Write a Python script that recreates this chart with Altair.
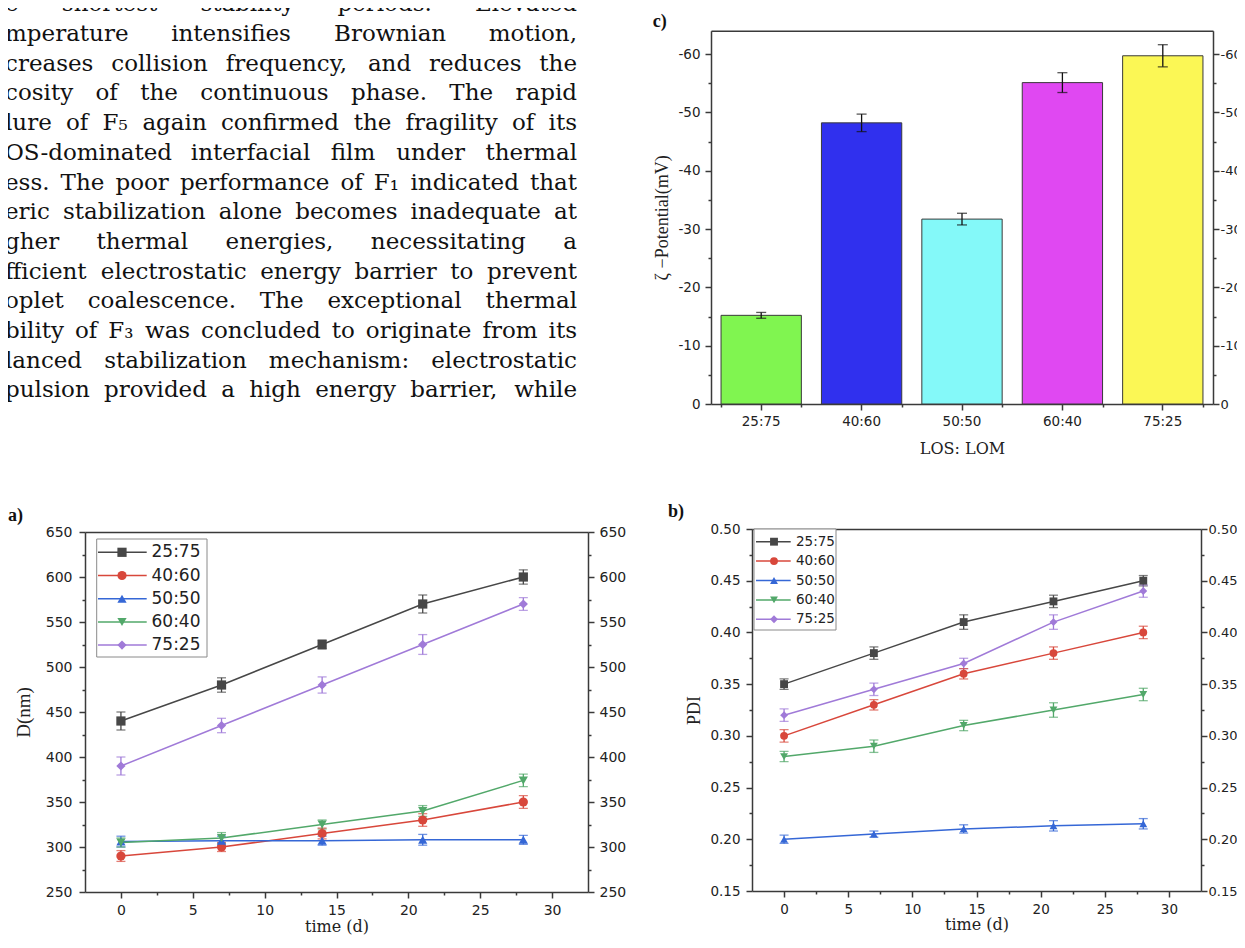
import altair as alt
import pandas as pd

# ---------------- data ----------------
days = [0, 7, 14, 21, 28]
series = ["25:75", "40:60", "50:50", "60:40", "75:25"]
series_colors = ["#474747", "#d8473b", "#3567d6", "#52a86a", "#a07ad8"]
series_shapes = ["square", "circle", "triangle-up", "triangle-down", "diamond"]

# a) droplet size D (nm)
d_25_75 = [440, 480, 525, 570, 600]
d_40_60 = [290, 300, 315, 330, 350]
d_50_50 = [306, 307, 307, 308, 308]
d_60_40 = [305, 310, 325, 340, 374]
d_75_25 = [390, 435, 480, 525, 570]
d_err_25_75 = [10, 8, 5, 10, 8]
d_err_40_60 = [6, 5, 6, 7, 7]
d_err_50_50 = [6, 5, 5, 6, 5]
d_err_60_40 = [5, 6, 5, 6, 7]
d_err_75_25 = [10, 8, 9, 11, 7]

# b) PDI
pdi_25_75 = [0.350, 0.380, 0.410, 0.430, 0.450]
pdi_40_60 = [0.300, 0.330, 0.360, 0.380, 0.400]
pdi_50_50 = [0.200, 0.205, 0.210, 0.213, 0.215]
pdi_60_40 = [0.280, 0.290, 0.310, 0.325, 0.340]
pdi_75_25 = [0.320, 0.345, 0.370, 0.410, 0.440]
pdi_err_25_75 = [0.005, 0.006, 0.007, 0.006, 0.005]
pdi_err_40_60 = [0.006, 0.005, 0.005, 0.006, 0.006]
pdi_err_50_50 = [0.004, 0.003, 0.004, 0.005, 0.005]
pdi_err_60_40 = [0.005, 0.006, 0.005, 0.007, 0.006]
pdi_err_75_25 = [0.006, 0.006, 0.005, 0.007, 0.006]

# c) zeta potential
zeta = [-15.2, -48.2, -31.7, -55.1, -59.7]
zeta_err = [0.5, 1.5, 1.0, 1.7, 1.9]
bar_colors = ["#80f550", "#3030ee", "#84f9f9", "#e048f2", "#fbf755"]

para_lines = [
    "e shortest stability periods. Elevated",
    "mperature intensifies Brownian motion,",
    "creases collision frequency, and reduces the",
    "cosity of the continuous phase. The rapid",
    "lure of F\u2085 again confirmed the fragility of its",
    "OS-dominated interfacial film under thermal",
    "ess. The poor performance of F\u2081 indicated that",
    "eric stabilization alone becomes inadequate at",
    "gher thermal energies, necessitating a",
    "fficient electrostatic energy barrier to prevent",
    "oplet coalescence. The exceptional thermal",
    "bility of F\u2083 was concluded to originate from its",
    "lanced stabilization mechanism: electrostatic",
    "pulsion provided a high energy barrier, while",
]

# ---------------- helpers ----------------
def long_df(vals, errs):
    rows = []
    for s, vv, ee in zip(series, vals, errs):
        for d, v, e in zip(days, vv, ee):
            rows.append({"series": s, "day": d, "value": v, "lo": v - e, "hi": v + e})
    return pd.DataFrame(rows)

size_df = long_df([d_25_75, d_40_60, d_50_50, d_60_40, d_75_25],
                  [d_err_25_75, d_err_40_60, d_err_50_50, d_err_60_40, d_err_75_25])
pdi_df = long_df([pdi_25_75, pdi_40_60, pdi_50_50, pdi_60_40, pdi_75_25],
                 [pdi_err_25_75, pdi_err_40_60, pdi_err_50_50, pdi_err_60_40, pdi_err_75_25])
zeta_df = pd.DataFrame({"ratio": series, "zeta": zeta,
                        "lo": [z - e for z, e in zip(zeta, zeta_err)],
                        "hi": [z + e for z, e in zip(zeta, zeta_err)],
                        "barcolor": bar_colors})
leg_df = pd.DataFrame({"series": series, "idx": list(range(len(series)))})
one_df = pd.DataFrame({"k": [0]})

AXC = "#3a3a3a"
AX = dict(domainColor=AXC, domainWidth=1.5, tickColor=AXC, tickWidth=1.5,
          labelColor="#222222", grid=False, labelFlush=False, labelOverlap=False,
          titleFontWeight="normal", titleColor="#222222")


def ax(**kw):
    d = dict(AX)
    d.update(kw)
    return alt.Axis(**d)


color_enc = alt.Color("series:N", scale=alt.Scale(domain=series, range=series_colors), legend=None)
shape_enc = alt.Shape("series:N", scale=alt.Scale(domain=series, range=series_shapes), legend=None)


def line_panel(df, xs, ys, axes, width, height, legend, label, marker_size, extra=()):
    X = lambda a: alt.X("day:Q", scale=xs, axis=a)
    Y = lambda a, f="value": alt.Y(f + ":Q", scale=ys, axis=a)
    base = alt.Chart(df)
    layers = [
        base.mark_point(opacity=0).encode(x=X(axes["xb"]), y=Y(axes["yl"])),
        base.mark_point(opacity=0).encode(x=X(axes["xbm"]), y=Y(axes["ylm"])),
        base.mark_point(opacity=0).encode(x=X(axes["xt"]), y=Y(axes["yr"])),
        base.mark_point(opacity=0).encode(x=X(None), y=Y(axes["yrm"])),
        base.mark_line(strokeWidth=1.5).encode(x=X(None), y=Y(None), color=color_enc),
        base.mark_rule(strokeWidth=1.3).encode(x=X(None), y=Y(None, "lo"), y2="hi:Q", color=color_enc),
        base.mark_tick(orient="horizontal", size=9, thickness=1.3).encode(x=X(None), y=Y(None, "lo"), color=color_enc),
        base.mark_tick(orient="horizontal", size=9, thickness=1.3).encode(x=X(None), y=Y(None, "hi"), color=color_enc),
        base.mark_point(filled=True, opacity=1, size=marker_size).encode(x=X(None), y=Y(None), color=color_enc, shape=shape_enc),
    ]
    # legend box + entries (positions in panel pixels, entries mapped to y-scale)
    lg = legend
    layers.append(alt.Chart(one_df).mark_rect(fill="white", stroke="#8a8a8a", strokeWidth=1).encode(
        x=alt.value(lg["bx0"]), x2=alt.value(lg["bx1"]), y=alt.value(lg["by0"]), y2=alt.value(lg["by1"])))
    lbase = alt.Chart(leg_df).transform_calculate(ly=lg["expr"])
    LY = alt.Y("ly:Q", scale=ys, axis=None)
    layers += [
        lbase.mark_rule(strokeWidth=1.5).encode(x=alt.value(lg["lx0"]), x2=alt.value(lg["lx1"]), y=LY, color=color_enc),
        lbase.mark_point(filled=True, opacity=1, size=marker_size).encode(x=alt.value(lg["mx"]), y=LY, color=color_enc, shape=shape_enc),
        lbase.mark_text(align="left", baseline="middle", font="DejaVu Sans", fontSize=lg["fs"], color="#222222").encode(
            x=alt.value(lg["tx"]), y=LY, text="series:N"),
        alt.Chart(one_df).mark_text(text=label[0], align="left", baseline="middle", font="Liberation Serif",
                                    fontWeight="bold", fontSize=18, color="#111111").encode(
            x=alt.value(label[1]), y=alt.value(label[2])),
    ]
    layers += list(extra)
    return alt.layer(*layers).resolve_axis(x="independent", y="independent").properties(width=width, height=height)


# ---------------- chart a ----------------
xs_a = alt.Scale(domain=[-2.5, 32.5], range=[77, 580], nice=False, zero=False)
ys_a = alt.Scale(domain=[250, 650], range=[363, 3], nice=False, zero=False)
x_major = [0, 5, 10, 15, 20, 25, 30]
x_minor = [2.5, 7.5, 12.5, 17.5, 22.5, 27.5]
ya_major = list(range(250, 651, 50))
ya_minor = list(range(275, 626, 50))
lab_a = dict(labelFont="DejaVu Sans", labelFontSize=14)
axes_a = {
    "xb": ax(orient="bottom", values=x_major, tickSize=6, labelPadding=5, format="d", title="time (d)",
             titleFont="DejaVu Serif", titleFontSize=16, titlePadding=1, **lab_a),
    "xbm": ax(orient="bottom", values=x_minor, tickSize=3, labels=False, domain=False, title=None),
    "xt": ax(orient="top", offset=-3, ticks=False, labels=False, title=None),
    "yl": ax(orient="left", offset=-77, values=ya_major, tickSize=6, labelPadding=7, format="d", title="D(nm)",
             titleFont="Liberation Serif", titleFontSize=19, titlePadding=12, **lab_a),
    "ylm": ax(orient="left", offset=-77, values=ya_minor, tickSize=3, labels=False, domain=False, title=None),
    "yr": ax(orient="right", values=ya_major, tickSize=6, labelPadding=5, format="d", title=None, **lab_a),
    "yrm": ax(orient="right", values=ya_minor, tickSize=3, labels=False, domain=False, title=None),
}
legend_a = dict(bx0=88.7, bx1=199, by0=10, by1=128, lx0=90, lx1=138.7, mx=114, tx=143.5, fs=17,
                expr="650 - (23.3 + datum.idx * 23.2 - 3) * 400 / 360")
chart_a = line_panel(size_df, xs_a, ys_a, axes_a, 580, 363, legend_a, ("a)", 0, -13.5), 85)

# ---------------- chart b ----------------
xs_b = alt.Scale(domain=[-2.5, 32.5], nice=False, zero=False)
ys_b = alt.Scale(domain=[0.15, 0.5], nice=False, zero=False)
yb_major = [round(0.15 + 0.05 * k, 2) for k in range(8)]
yb_minor = [round(0.175 + 0.05 * k, 3) for k in range(7)]
lab_b = dict(labelFont="DejaVu Sans", labelFontSize=13.5)
axes_b = {
    "xb": ax(orient="bottom", values=x_major, tickSize=6, labelPadding=5, format="d", title="time (d)",
             titleFont="DejaVu Serif", titleFontSize=16, titlePadding=1, **lab_b),
    "xbm": ax(orient="bottom", values=x_minor, tickSize=3, labels=False, domain=False, title=None),
    "xt": ax(orient="top", ticks=False, labels=False, title=None),
    "yl": ax(orient="left", values=yb_major, tickSize=6, labelPadding=6, format=".2f", title="PDI",
             titleFont="Liberation Serif", titleFontSize=18, titlePadding=6, **lab_b),
    "ylm": ax(orient="left", values=yb_minor, tickSize=3, labels=False, domain=False, title=None),
    "yr": ax(orient="right", values=yb_major, tickSize=6, labelPadding=1, format=".2f", title=None,
             labelFont="DejaVu Sans", labelFontSize=13),
    "yrm": ax(orient="right", values=yb_minor, tickSize=3, labels=False, domain=False, title=None),
}
legend_b = dict(bx0=2, bx1=84, by0=0, by1=101, lx0=4, lx1=38.7, mx=22, tx=44, fs=13.5,
                expr="0.5 - (12.7 + datum.idx * 19.4) * 0.35 / 362")
# invisible anchor that fixes the overall bounds (page is then cropped with padding)
anchor = alt.Chart(one_df).mark_rect(opacity=0).encode(
    x=alt.value(520), x2=alt.value(521), y=alt.value(440), y2=alt.value(441))
chart_b = line_panel(pdi_df, xs_b, ys_b, axes_b, 449, 362, legend_b, ("b)", -84, -17.5), 62, extra=[anchor])

# ---------------- chart c ----------------
xs_c = alt.Scale(domain=series, paddingInner=0.2, paddingOuter=0.1)
ys_c = alt.Scale(domain=[0, -64], range=[396, 22.7], nice=False, zero=False)
yc_major = [0, -10, -20, -30, -40, -50, -60]
yc_minor = [-5, -15, -25, -35, -45, -55]
neg_lbl = "datum.value == 0 ? '0' : '-' + format(abs(datum.value), 'd')"
lab_c = dict(labelFont="DejaVu Sans", labelFontSize=13.5)
Xc = lambda a: alt.X("ratio:N", scale=xs_c, axis=a, sort=series)
Yc = lambda a, f="zeta": alt.Y(f + ":Q", scale=ys_c, axis=a)
bc = alt.Chart(zeta_df)
chart_c = alt.layer(
    bc.mark_point(opacity=0).encode(
        x=Xc(ax(orient="bottom", tickSize=6, labelPadding=4, labelAngle=0, title="LOS: LOM",
                titleFont="DejaVu Serif", titleFontSize=16, titlePadding=13, **lab_c)),
        y=Yc(ax(orient="left", values=yc_major, tickSize=6, labelPadding=5, labelExpr=neg_lbl,
                title="\u03b6 \u2212Potential(mV)", titleFont="Liberation Serif", titleFontSize=18,
                titlePadding=6, **lab_c))),
    bc.mark_point(opacity=0).encode(
        x=Xc(ax(orient="bottom", tickBand="extent", tickSize=3, labels=False, domain=False, title=None)),
        y=Yc(ax(orient="left", values=yc_minor, tickSize=3, labels=False, domain=False, title=None))),
    bc.mark_point(opacity=0).encode(
        x=Xc(ax(orient="top", offset=-22.7, ticks=False, labels=False, title=None)),
        y=Yc(ax(orient="right", values=yc_major, tickSize=6, labelPadding=1, labelExpr=neg_lbl, title=None,
                labelFont="DejaVu Sans", labelFontSize=13))),
    bc.mark_point(opacity=0).encode(
        x=Xc(None),
        y=Yc(ax(orient="right", values=yc_minor, tickSize=3, labels=False, domain=False, title=None))),
    bc.mark_bar(stroke="#3a3a3a", strokeWidth=1).encode(
        x=Xc(None), y=Yc(None), color=alt.Color("barcolor:N", scale=None)),
    bc.mark_rule(strokeWidth=1.3, color="#111111").encode(x=Xc(None), y=Yc(None, "lo"), y2="hi:Q"),
    bc.mark_tick(orient="horizontal", size=10, thickness=1.3, color="#111111").encode(x=Xc(None), y=Yc(None, "lo")),
    bc.mark_tick(orient="horizontal", size=10, thickness=1.3, color="#111111").encode(x=Xc(None), y=Yc(None, "hi")),
    alt.Chart(one_df).mark_text(text="c)", align="left", baseline="middle", font="Liberation Serif",
                                fontWeight="bold", fontSize=18, color="#111111").encode(
        x=alt.value(-58.3), y=alt.value(13.7)),
).resolve_axis(x="independent", y="independent").properties(width=502, height=396)

# ---------------- text panel (justified lines) ----------------
CW = {'a': .596, 'b': .640, 'c': .560, 'd': .640, 'e': .592, 'f': .370, 'g': .640, 'h': .644, 'i': .320,
      'j': .310, 'k': .606, 'l': .320, 'm': .948, 'n': .644, 'o': .602, 'p': .640, 'q': .640, 'r': .478,
      's': .513, 't': .402, 'u': .644, 'v': .565, 'w': .856, 'x': .564, 'y': .565, 'z': .527,
      'B': .733, 'E': .729, 'F': .693, 'O': .787, 'S': .685, 'T': .667,
      '.': .318, ',': .318, ':': .337, '-': .338, ' ': .318,
      '\u2081': .42, '\u2083': .42, '\u2085': .42}


def em_width(s):
    return sum(CW.get(ch, 0.62) for ch in s)


TL, TR = -3.0, 569.0
fs_text = min(23.0, (TR - TL) / max(em_width(l) for l in para_lines))
word_rows = []
for i, line in enumerate(para_lines):
    words = line.split(" ")
    ws = [em_width(w) * fs_text for w in words]
    gap = (TR - TL - sum(ws)) / (len(words) - 1)
    x = TL
    for j, (w, ww) in enumerate(zip(words, ws)):
        last = j == len(words) - 1
        word_rows.append({"word": w, "x": TR if last else x, "y": 3.3 + 29.7 * i, "al": "r" if last else "l"})
        x += ww + gap
words_df = pd.DataFrame(word_rows)
tbase = alt.Chart(words_df)
tenc = dict(x=alt.X("x:Q", scale=None), y=alt.Y("y:Q", scale=None), text="word:N")
text_panel = alt.layer(
    tbase.transform_filter("datum.al == 'l'").mark_text(align="left", baseline="alphabetic", font="DejaVu Serif",
                                                       fontSize=fs_text, color="#111111", clip=True).encode(**tenc),
    tbase.transform_filter("datum.al == 'r'").mark_text(align="right", baseline="alphabetic", font="DejaVu Serif",
                                                       fontSize=fs_text, color="#111111", clip=True).encode(**tenc),
).properties(width=569, height=400)

row1 = alt.hconcat(text_panel, chart_c, spacing=134, bounds="flush")
row2 = alt.hconcat(chart_a, chart_b, spacing=164, bounds="flush")
chart = alt.vconcat(row1, row2, spacing=45).configure_view(stroke=None).properties(
    padding={"left": 0, "top": 0, "right": -36, "bottom": -34}, background="white")

chart.save("out.html", embed_options={"renderer": "svg", "actions": False})
